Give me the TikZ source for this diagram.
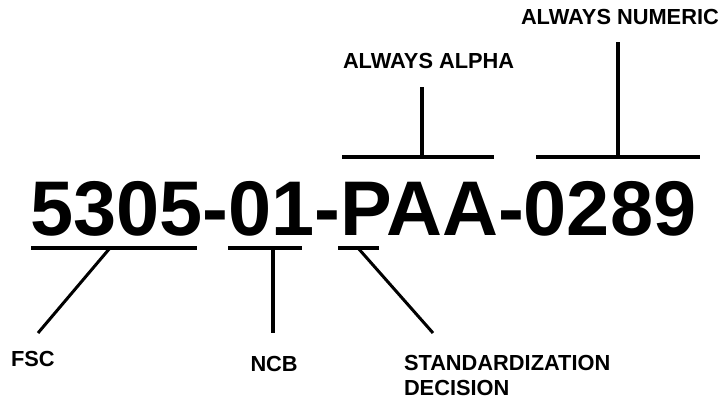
\documentclass[tikz,border=0pt]{standalone}
\usepackage{fontspec}
\setmainfont{Liberation Sans}
\begin{document}
\begin{tikzpicture}[x=1pt,y=-1pt,
  lbl/.style={anchor=base west,inner sep=0pt,outer sep=0pt,font=\fontsize{21.8}{27}\selectfont\bfseries},
  big/.style={anchor=base west,inner sep=0pt,outer sep=0pt,font=\fontsize{77.5}{80}\selectfont\bfseries},
  bar/.style={line width=4pt},
  stem/.style={line width=3.6pt},
  slant/.style={line width=3pt}]
\useasboundingbox (0,0) rectangle (725,399);
% main number
\node[big] (code) at (30,235) {5305-01-PAA-0289};
% labels
\node[lbl] (num) at (521,24) {ALWAYS NUMERIC};
\node[lbl] (alpha) at (343,68) {ALWAYS ALPHA};
\node[lbl] (fsc) at (11,366) {FSC};
\node[lbl] (ncb) at (250.5,371) {NCB};
\node[lbl] (std) at (404,370) {STANDARDIZATION};
\node[lbl] (dec) at (404,395) {DECISION};
% bars above
\coordinate (aL) at (342,157); \coordinate (aR) at (494,157); \coordinate (aM) at (422,157); \coordinate (aT) at (422,87);
\coordinate (nL) at (536,157); \coordinate (nR) at (700,157); \coordinate (nM) at (618,157); \coordinate (nT) at (618,42);
\draw[bar] (aL) -- (aR);
\draw[stem] (aM) -- (aT);
\draw[bar] (nL) -- (nR);
\draw[stem] (nM) -- (nT);
% bars below
\coordinate (fL) at (31,248); \coordinate (fR) at (197,248); \coordinate (fM) at (110,248); \coordinate (fB) at (38,333);
\coordinate (cL) at (228,248); \coordinate (cR) at (302,248); \coordinate (cM) at (273,248); \coordinate (cB) at (273,333);
\coordinate (sL) at (338,248); \coordinate (sR) at (379,248); \coordinate (sM) at (358,248); \coordinate (sB) at (433,333);
\draw[bar] (fL) -- (fR);
\draw[slant] (fM) -- (fB);
\draw[bar] (cL) -- (cR);
\draw[stem] (cM) -- (cB);
\draw[bar] (sL) -- (sR);
\draw[slant] (sM) -- (sB);
\end{tikzpicture}
\end{document}
